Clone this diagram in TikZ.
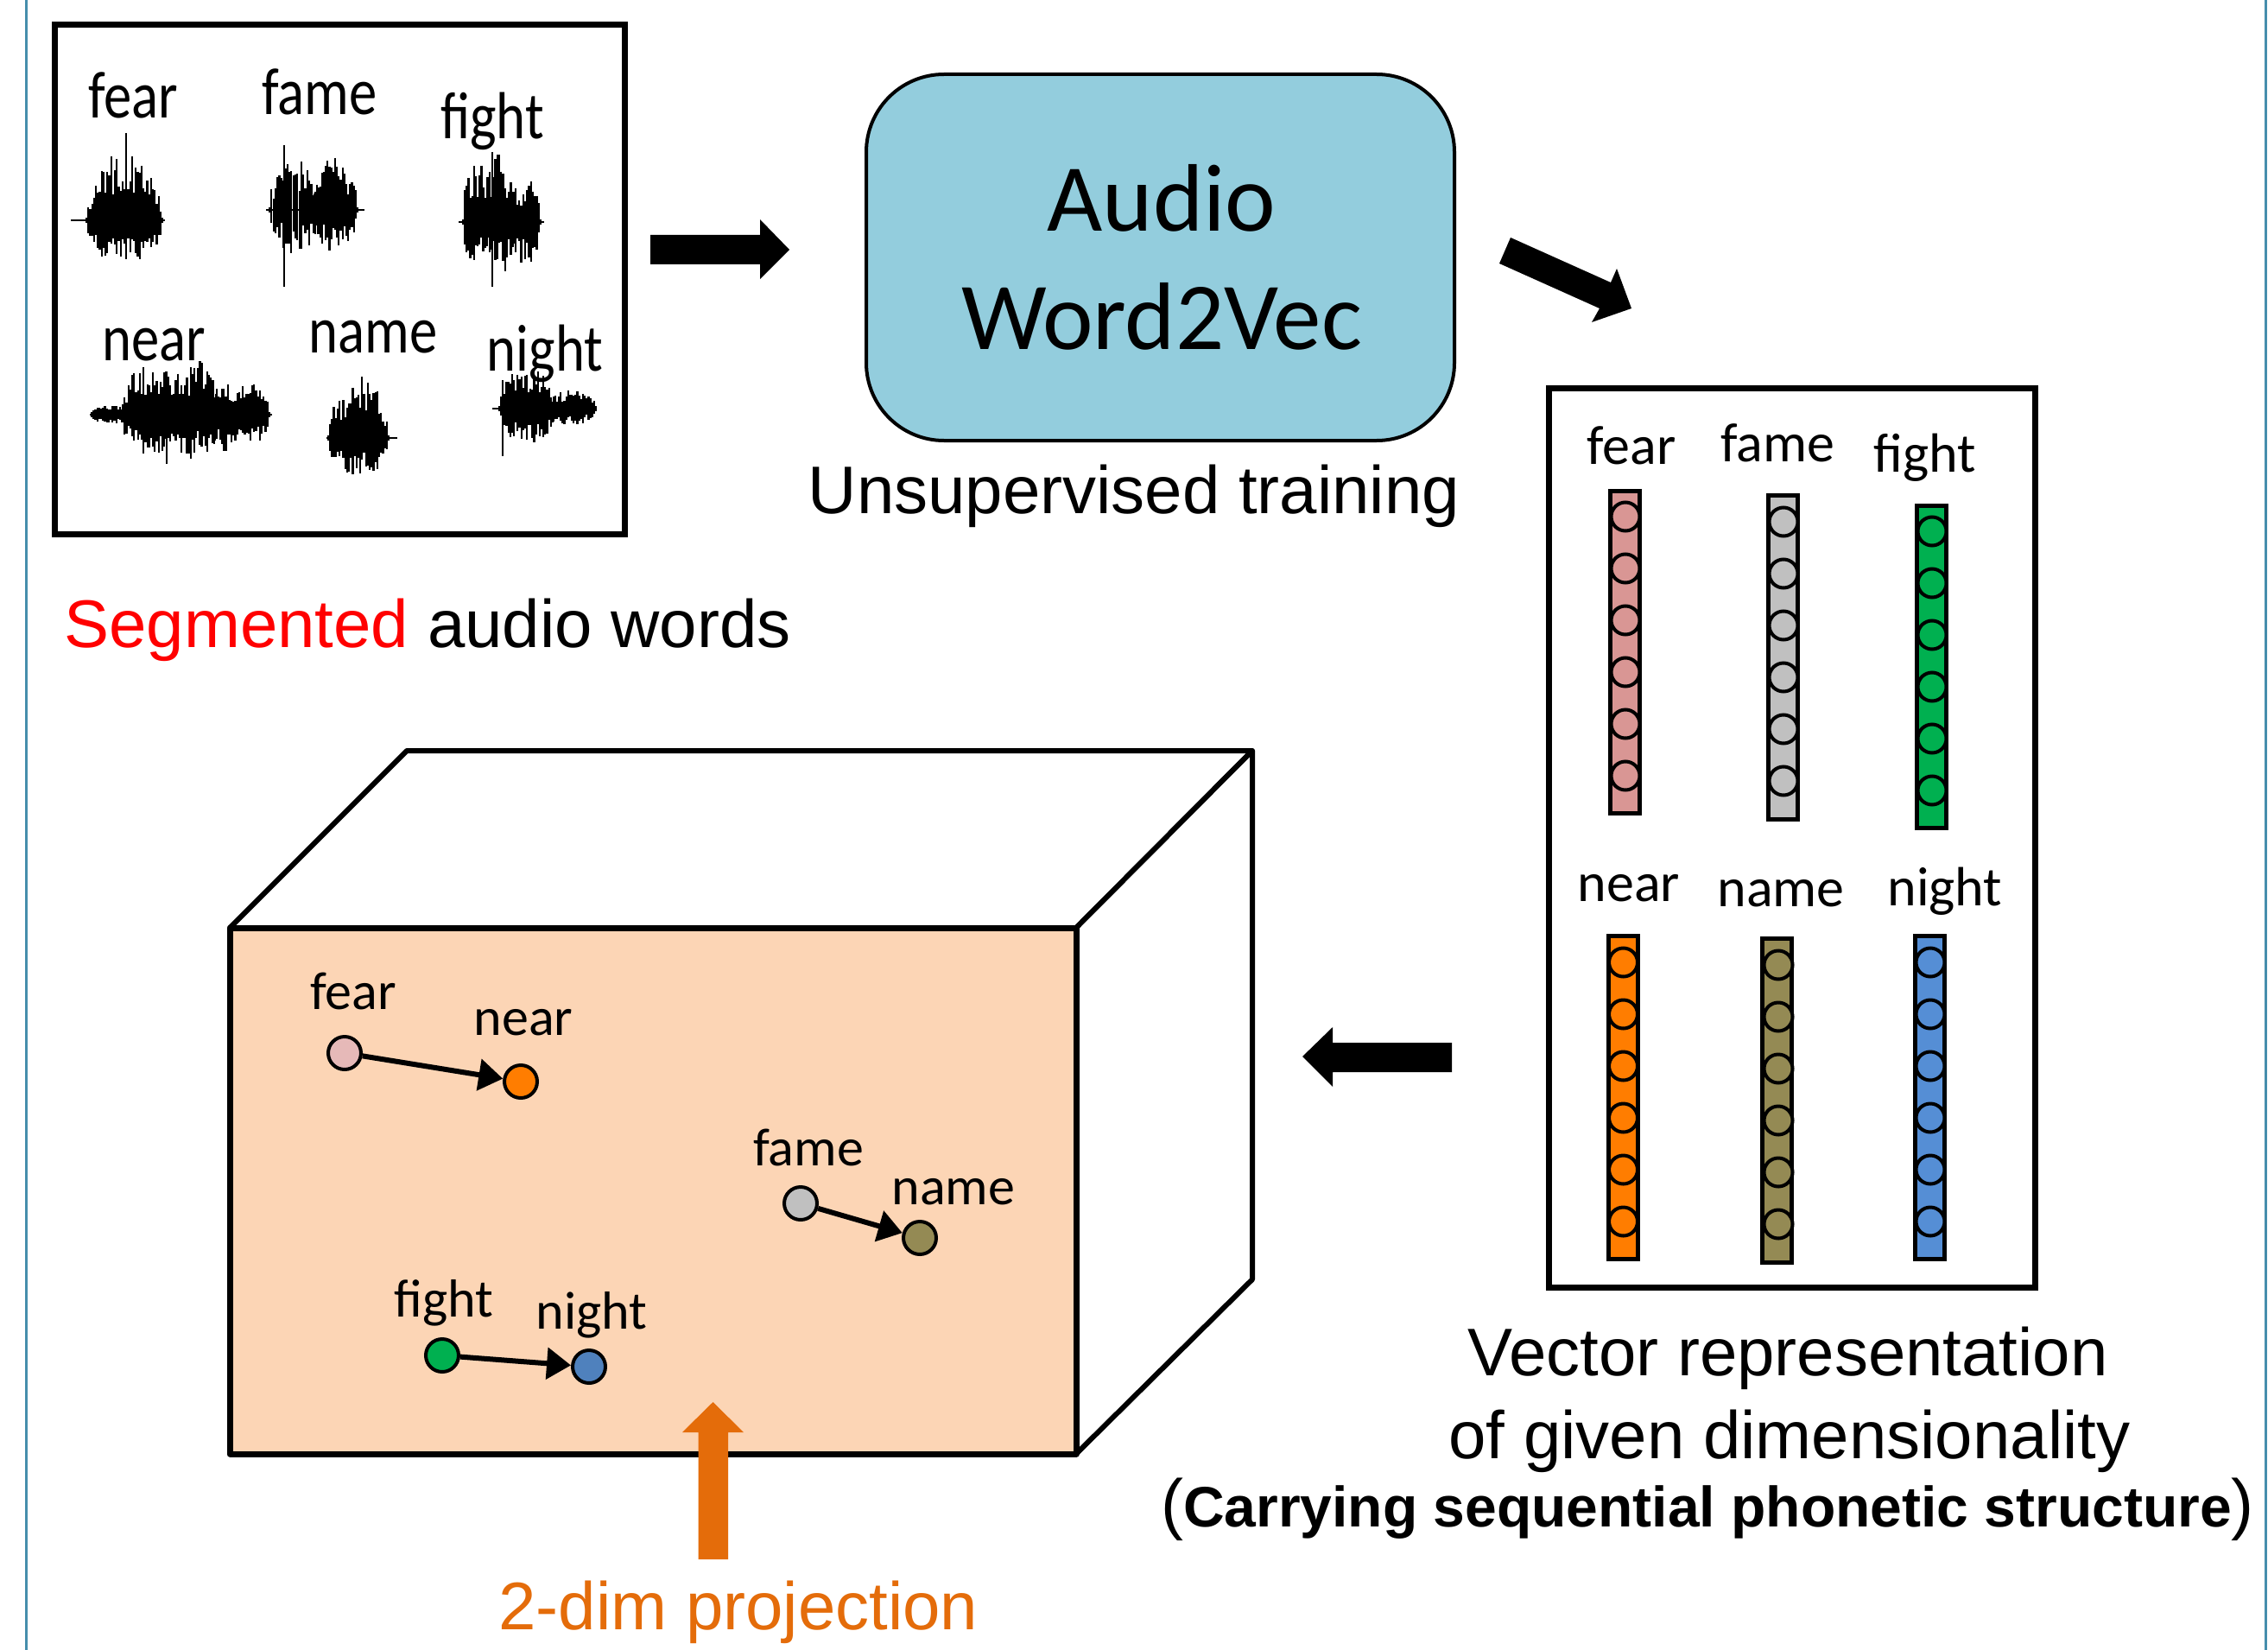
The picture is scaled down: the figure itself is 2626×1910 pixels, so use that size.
\documentclass[tikz,border=0pt]{standalone}
\usepackage{fontspec}
\usepackage{graphicx}
\setmainfont{Liberation Sans}
\newfontfamily\calibri{Carlito}
\usetikzlibrary{arrows.meta}

\definecolor{framelineblue}{RGB}{70,142,172}
\definecolor{boxblue}{RGB}{147,205,221}
\definecolor{faceorange}{RGB}{252,213,181}
\definecolor{projorange}{RGB}{228,108,10}
\definecolor{cfear}{RGB}{217,150,148}
\definecolor{cfame}{RGB}{192,192,192}
\definecolor{cfight}{RGB}{0,176,80}
\definecolor{cnear}{RGB}{255,125,0}
\definecolor{cname}{RGB}{148,138,84}
\definecolor{cnight}{RGB}{85,142,213}
\definecolor{dfear}{RGB}{230,185,184}
\definecolor{dnight}{RGB}{79,129,189}

% squeezed word labels of the waveform panel
\newcommand\sqzword[1]{\scalebox{0.84}[1]{#1}}

% one burst of a waveform: x-range, centre line, amplitude up/down, bar count, seed
\newcommand\wavebars[7]{%
  \pgfmathsetseed{#7}%
  \foreach \i in {0,...,#6}{%
    \pgfmathsetmacro\wx{#1+(#2-#1)*\i/#6}%
    \pgfmathsetmacro\wenv{sqrt(abs(sin(180*\i/#6)))}%
    \pgfmathsetmacro\wup{3+#4*\wenv*(0.3+0.7*rnd)}%
    \pgfmathsetmacro\wdn{3+#5*\wenv*(0.3+0.7*rnd)}%
    \draw[wavepen] (\wx,#3-\wup) -- (\wx,#3+\wdn);
  }%
}

\begin{document}
\begin{tikzpicture}[x=1pt,y=-1pt,
  wavepen/.style={line width=2.2pt,black},
  baseline wave/.style={line width=1.6pt,black},
  panel/.style={draw=black,line width=7pt,fill=white},
  wordA/.style={font=\calibri\fontsize{77}{77}\selectfont,anchor=base,inner sep=0pt},
  wordB/.style={font=\calibri\fontsize{64}{64}\selectfont,anchor=base,inner sep=0pt},
  wordC/.style={font=\calibri\fontsize{62}{62}\selectfont,anchor=base,inner sep=0pt},
  caption/.style={font=\fontsize{78}{94}\selectfont,anchor=base,inner sep=0pt},
  bigtitle/.style={font=\calibri\fontsize{111}{111}\selectfont,anchor=base,inner sep=0pt},
  vecbar/.style={draw=black,line width=5pt,minimum width=34pt,inner sep=0pt,rectangle},
  cell/.style={draw=black,line width=4pt,circle,minimum size=33pt,inner sep=0pt},
  dot/.style={draw=black,line width=4pt,circle,minimum size=38pt,inner sep=0pt},
  projarrow/.style={line width=6pt,-{Triangle[length=28pt,width=36pt]}},
  blockarrow/.style={fill=black},
  cubeedge/.style={draw=black,line width=6pt,line join=round}
]
\useasboundingbox (0,0) rectangle (2626,1910);
\fill[white] (0,0) rectangle (2626,1910);

% side rules of the page
\draw[framelineblue,line width=3pt] (30,0) -- (30,1910);
\draw[framelineblue,line width=3pt] (2623,0) -- (2623,1910);

% ---------- segmented audio words ----------
\node[panel,minimum width=660pt,minimum height=590pt,inner sep=0pt] (wavepanel) at (393.5,323.5) {};

\node[wordA] (wfear)  at (154,137) {\sqzword{fear}};
\node[wordA] (wfame)  at (370,133) {\sqzword{fame}};
\node[wordA] (wfight) at (570,161) {\sqzword{fight}};
\node[wordA] (wnear)  at (178,417) {\sqzword{near}};
\node[wordA] (wname)  at (432,408) {\sqzword{name}};
\node[wordA] (wnight) at (631,429) {\sqzword{night}};

% fear
\draw[baseline wave] (82,255) -- (191,255);
\wavebars{100}{188}{255}{80}{55}{40}{11}
\draw[line width=2.2pt] (146,154) -- (146,300);
% fame
\draw[baseline wave] (308,243) -- (422,243);
\wavebars{312}{372}{243}{62}{48}{26}{23}
\wavebars{362}{414}{243}{60}{50}{24}{37}
\draw[line width=1.8pt] (329,168) -- (329,332);
% fight
\draw[baseline wave] (531,257) -- (630,257);
\wavebars{536}{566}{257}{82}{58}{14}{41}
\wavebars{560}{596}{257}{80}{64}{16}{53}
\wavebars{590}{626}{257}{52}{48}{16}{67}
\draw[line width=1.8pt] (570,176) -- (570,332);
% near
\draw[baseline wave] (104,480) -- (315,480);
\wavebars{140}{210}{480}{58}{46}{32}{71}
\wavebars{195}{255}{480}{62}{50}{28}{83}
\wavebars{235}{290}{480}{36}{42}{25}{97}
\wavebars{270}{312}{480}{36}{32}{19}{101}
\wavebars{106}{150}{480}{8}{8}{20}{113}
\draw[line width=1.8pt] (193,470) -- (193,537);
% name
\draw[baseline wave] (378,507) -- (460,507);
\wavebars{380}{450}{507}{70}{44}{32}{127}
% night
\draw[baseline wave] (570,473) -- (691,473);
\wavebars{578}{642}{473}{46}{42}{30}{131}
\wavebars{630}{690}{473}{18}{18}{28}{149}
\draw[line width=1.8pt] (582,440) -- (582,528);

\node[caption] (segcap) at (495,749) {\textcolor{red}{Segmented} audio words};

% ---------- Audio Word2Vec ----------
\node[draw=black,line width=4pt,fill=boxblue,rounded corners=90pt,
      minimum width=681pt,minimum height=424pt,inner sep=0pt] (w2v) at (1343.5,298) {};
\node[bigtitle] (w2vA) at (1345,268) {Audio};
\node[bigtitle] (w2vB) at (1345,404) {Word2Vec};
\node[caption] (traincap) at (1313,594) {Unsupervised training};

% block arrows between stages
\fill[blockarrow] (753,272) -- (880,272) -- (880,254) -- (914,289) -- (880,323)
  -- (880,306) -- (753,306) -- cycle;
\fill[blockarrow] (1749,275) -- (1865,327) -- (1872,311) -- (1889,357) -- (1843,373)
  -- (1852,357) -- (1736,305) -- cycle;
\fill[blockarrow] (1681,1207) -- (1543,1207) -- (1543,1189) -- (1508,1223) -- (1543,1258)
  -- (1543,1241) -- (1681,1241) -- cycle;

% ---------- vector representation ----------
\node[panel,minimum width=563pt,minimum height=1041pt,inner sep=0pt] (vecpanel) at (2075,970) {};

\node[wordB] (vfearL)  at (1889,537)  {fear};
\node[wordB] (vfameL)  at (2058,534)  {fame};
\node[wordB] (vfightL) at (2229,546)  {fight};
\node[wordB] (vnearL)  at (1886,1043) {near};
\node[wordB] (vnameL)  at (2062,1049) {name};
\node[wordB] (vnightL) at (2252,1048) {night};

\node[vecbar,fill=cfear, minimum height=373pt] (vfear)  at (1881.5,755) {};
\node[vecbar,fill=cfame, minimum height=375pt] (vfame)  at (2064.6,761) {};
\node[vecbar,fill=cfight,minimum height=373pt] (vfight) at (2236,772) {};
\node[vecbar,fill=cnear, minimum height=374pt] (vnear)  at (1879,1270.5) {};
\node[vecbar,fill=cname, minimum height=375pt] (vname)  at (2057.7,1274) {};
\node[vecbar,fill=cnight,minimum height=374pt] (vnight) at (2234.5,1270.5) {};

\foreach \k in {0,...,5}{
  \node[cell,fill=cfear]  (cfear\k)  at (1882,598+60*\k) {};
  \node[cell,fill=cfame]  (cfame\k)  at (2065,604+60*\k) {};
  \node[cell,fill=cfight] (cfight\k) at (2237,615+60*\k) {};
  \node[cell,fill=cnear]  (cnear\k)  at (1879.5,1114+60*\k) {};
  \node[cell,fill=cname]  (cname\k)  at (2059,1117+60*\k) {};
  \node[cell,fill=cnight] (cnight\k) at (2235,1114+60*\k) {};
}

\node[caption] (veccap1) at (2070,1592) {Vector representation};
\node[caption] (veccap2) at (2072,1688) {of given dimensionality};
\node[caption] (veccap3) at (1977,1767)
  {(\fontsize{66}{66}\selectfont\bfseries Carrying sequential phonetic structure\fontsize{78}{94}\selectfont\mdseries)};

% ---------- projected space ----------
\path[cubeedge,fill=white] (266,1074) -- (471,869) -- (1450,869) -- (1246,1074) -- cycle;
\path[cubeedge,fill=white] (1246,1074) -- (1450,869) -- (1450,1481) -- (1246,1683) -- cycle;
\path[cubeedge,fill=faceorange,line width=7pt] (266,1074) rectangle (1246,1683);

\node[wordC] (pfearL)  at (409,1168)  {fear};
\node[wordC] (pnearL)  at (606,1198)  {near};
\node[wordC] (pfameL)  at (936,1349)  {fame};
\node[wordC] (pnameL)  at (1104,1394) {name};
\node[wordC] (pfightL) at (514,1524)  {fight};
\node[wordC] (pnightL) at (685,1538)  {night};

\node[dot,fill=dfear]  (pfear)  at (399,1219) {};
\node[dot,fill=cnear]  (pnear)  at (603,1252) {};
\node[dot,fill=cfame]  (pfame)  at (927,1393) {};
\node[dot,fill=cname]  (pname)  at (1065,1433) {};
\node[dot,fill=cfight] (pfight) at (512,1569) {};
\node[dot,fill=dnight] (pnight) at (682,1582) {};

\draw[projarrow] (pfear) -- (pnear);
\draw[projarrow] (pfame) -- (pname);
\draw[projarrow] (pfight) -- (pnight);

% projection pointer and caption
\fill[projorange] (808.5,1805) -- (808.5,1658) -- (790,1658) -- (825.5,1623) -- (861,1658)
  -- (843,1658) -- (843,1805) -- cycle;
\node[caption,text=projorange] (projcap) at (855,1886) {2-dim projection};

\end{tikzpicture}
\end{document}
